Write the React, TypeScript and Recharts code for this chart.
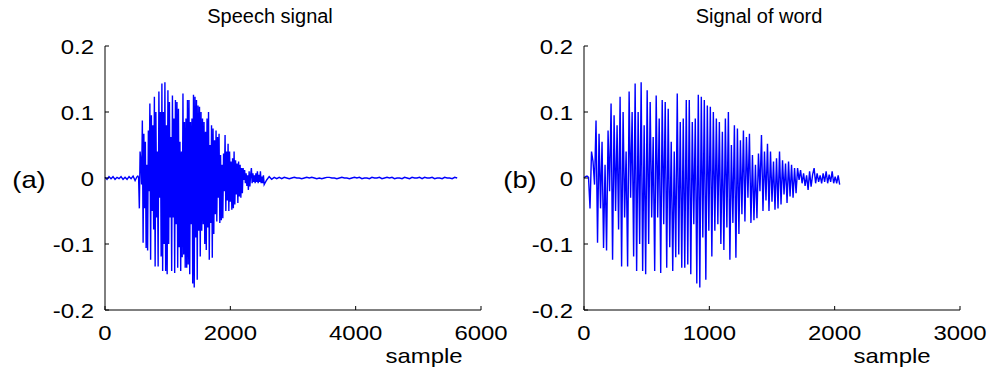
import { Line, LineChart, XAxis, YAxis } from "recharts";

// speech samples before the word starts (step 32 samples)
const leadValues = [
  0.001, -0.002, 0.002, -0.001, 0.002, -0.002, 0.001, -0.001, 0.002, -0.002, 0.001, -0.002, 0.002,
  -0.001, 0.003, -0.004,
];
const LEAD_STEP = 32;

// the word itself (step 12 samples)
const wordValues = [
  0.0, 0.002, 0.003, 0.001, -0.046, 0.04, 0.025, -0.01, 0.087, -0.098,
  0.067, -0.046, 0.055, -0.106, 0.02, -0.11, 0.072, -0.02, 0.113, -0.124,
  0.095, -0.05, 0.08, -0.078, 0.123, -0.134, 0.1, -0.06, 0.04, -0.134,
  0.131, -0.03, 0.1, -0.119, 0.143, -0.141, 0.1, -0.1, 0.145, -0.141,
  0.08, -0.146, 0.133, -0.1, 0.115, -0.06, 0.062, -0.141, 0.125, -0.06,
  0.09, -0.144, 0.118, -0.07, 0.115, -0.136, 0.105, -0.105, 0.055, -0.141,
  0.04, -0.12, 0.128, -0.116, 0.085, -0.136, 0.09, -0.136, 0.118, -0.131,
  0.118, -0.146, 0.085, -0.07, 0.09, -0.16, 0.126, -0.166, 0.123, -0.09,
  0.118, -0.154, 0.11, -0.08, 0.108, -0.119, 0.1, -0.08, 0.09, -0.07,
  0.085, -0.1, 0.07, -0.109, 0.09, -0.075, 0.1, -0.124, 0.05, -0.068,
  0.08, -0.121, 0.075, -0.085, 0.057, -0.055, 0.072, -0.066, 0.062, -0.03,
  0.067, -0.068, 0.035, -0.064, 0.02, -0.061, 0.037, -0.02, 0.065, -0.05,
  0.04, -0.034, 0.052, -0.05, 0.04, -0.036, 0.025, -0.048, 0.03, -0.046,
  0.04, -0.04, 0.027, -0.025, 0.022, -0.038, 0.025, -0.028, 0.02, -0.03,
  0.015, -0.023, 0.015, -0.003, 0.012, -0.008, 0.007, -0.012, 0.004, -0.018,
  0.01, -0.013, 0.005, 0.015, -0.008, 0.007, -0.006, 0.004, -0.008, 0.007,
  -0.006, 0.01, -0.008, 0.005, -0.006, 0.01, -0.008, 0.002, -0.008, 0.004,
  -0.01,
];
const WORD_STEP = 12;
const WORD_OFFSET = 500; // where the word sits inside the speech signal

// silence after the word (step 40 samples)
const tailValues = [
  -0.003, 0.002, -0.002, 0.001, -0.001, 0.001, -0.001, 0.001, 0.0, -0.001,
  0.0, 0.001, 0.0, 0.0, -0.001, 0.0, 0.001, 0.0, 0.001, 0.0,
  -0.001, 0.0, -0.001, 0.0, 0.001, 0.001, 0.0, 0.0, -0.001, 0.0,
  0.001, 0.0, 0.0, -0.001, 0.0, 0.001, 0.0, 0.001, -0.001, 0.0,
  0.0, -0.001, 0.001, 0.0, 0.0, 0.001, -0.001, 0.0, 0.001, 0.0,
  0.001, -0.001, 0.0, 0.0, -0.001, 0.001, 0.0, -0.001, 0.001, 0.0,
  0.0, 0.001, -0.001, 0.001, 0.0, 0.0, 0.001, -0.001, 0.0, 0.0,
  -0.001, 0.001, 0.0, 0.0, -0.001, 0.001, 0.0,
];
const TAIL_START = 2580;
const TAIL_STEP = 40;

const speechXTicks = [0, 2000, 4000, 6000];
const wordXTicks = [0, 1000, 2000, 3000];
const ampTicks = [-0.2, -0.1, 0, 0.1, 0.2];

type Pt = { x: number; y: number };

const wordData: Pt[] = wordValues.map((v, i) => ({ x: i * WORD_STEP, y: v }));
const speechData: Pt[] = [
  ...leadValues.map((v, i) => ({ x: i * LEAD_STEP, y: v })),
  ...wordData.map((p) => ({ x: p.x + WORD_OFFSET, y: p.y })),
  ...tailValues.map((v, i) => ({ x: TAIL_START + i * TAIL_STEP, y: v })),
];

const FONT = "'Liberation Sans', Arial, Helvetica, sans-serif";
const STRETCH = 1.14; // the source tick text is drawn wide
const TICK_LEN = 4;

function BottomTick(props: any) {
  const { x, y, payload } = props;
  return (
    <g>
      <line x1={x} y1={y} x2={x} y2={y - TICK_LEN} stroke="#000" />
      <text
        transform={`translate(${x},${y + 30}) scale(${STRETCH},1)`}
        textAnchor="middle"
        fontFamily={FONT}
        fontSize={21}
        fill="#000"
      >
        {payload.value}
      </text>
    </g>
  );
}

function LeftTick(props: any) {
  const { x, y, payload } = props;
  return (
    <g>
      <line x1={x} y1={y} x2={x + TICK_LEN} y2={y} stroke="#000" />
      <text
        transform={`translate(${x - 11},${y + 7.5}) scale(${STRETCH},1)`}
        textAnchor="end"
        fontFamily={FONT}
        fontSize={21}
        fill="#000"
      >
        {String(payload.value)}
      </text>
    </g>
  );
}

function TopTick(props: any) {
  const { x, y } = props;
  return <line x1={x} y1={y} x2={x} y2={y + TICK_LEN} stroke="#000" />;
}

function RightTick(props: any) {
  const { x, y } = props;
  return <line x1={x} y1={y} x2={x - TICK_LEN} y2={y} stroke="#000" />;
}

function Panel({
  data,
  xMax,
  xTicks,
  left,
  width,
  plotLeft,
  plotRight,
}: {
  data: Pt[];
  xMax: number;
  xTicks: number[];
  left: number;
  width: number;
  plotLeft: number;
  plotRight: number;
}) {
  const axisLine = { stroke: "#000", strokeWidth: 1 };
  return (
    <div style={{ position: "absolute", left, top: 0 }}>
      <LineChart
        width={width}
        height={374}
        data={data}
        margin={{ top: 46, right: width - plotRight, bottom: 24, left: plotLeft - 60 }}
      >
        <XAxis
          dataKey="x"
          type="number"
          domain={[0, xMax]}
          ticks={xTicks}
          interval={0}
          height={40}
          tickSize={0}
          tickMargin={0}
          tickLine={false}
          axisLine={axisLine}
          tick={(p: any) => <BottomTick {...p} />}
        />
        <XAxis
          xAxisId="top"
          orientation="top"
          dataKey="x"
          type="number"
          domain={[0, xMax]}
          ticks={xTicks}
          interval={0}
          height={0}
          tickSize={0}
          tickMargin={0}
          tickLine={false}
          axisLine={axisLine}
          tick={(p: any) => <TopTick {...p} />}
        />
        <YAxis
          type="number"
          domain={[-0.2, 0.2]}
          ticks={ampTicks}
          interval={0}
          width={60}
          tickSize={0}
          tickMargin={0}
          tickLine={false}
          axisLine={axisLine}
          tick={(p: any) => <LeftTick {...p} />}
        />
        <YAxis
          yAxisId="right"
          orientation="right"
          type="number"
          domain={[-0.2, 0.2]}
          ticks={ampTicks}
          interval={0}
          width={0}
          tickSize={0}
          tickMargin={0}
          tickLine={false}
          axisLine={axisLine}
          tick={(p: any) => <RightTick {...p} />}
        />
        <Line
          type="linear"
          dataKey="y"
          stroke="#0000ff"
          strokeWidth={1.4}
          dot={false}
          activeDot={false}
          isAnimationActive={false}
        />
      </LineChart>
    </div>
  );
}

function Label({
  x,
  y,
  size,
  text,
  stretch = STRETCH,
}: {
  x: number;
  y: number;
  size: number;
  text: string;
  stretch?: number;
}) {
  return (
    <div
      style={{
        position: "absolute",
        left: x,
        top: y,
        fontFamily: FONT,
        fontSize: size,
        lineHeight: 1,
        whiteSpace: "nowrap",
        color: "#000",
        transform: `translate(-50%,-50%) scaleX(${stretch})`,
      }}
    >
      {text}
    </div>
  );
}

export default function App() {
  return (
    <div
      style={{
        position: "absolute",
        left: 0,
        top: 0,
        width: 994,
        height: 374,
        background: "#fff",
        overflow: "hidden",
      }}
    >
      <Panel data={speechData} xMax={6000} xTicks={speechXTicks} left={0} width={540} plotLeft={105} plotRight={481} />
      <Panel data={wordData} xMax={3000} xTicks={wordXTicks} left={480} width={514} plotLeft={104} plotRight={480} />
      <Label x={270} y={16} size={20} stretch={1} text="Speech signal" />
      <Label x={759} y={16} size={20} stretch={1} text="Signal of word" />
      <Label x={29} y={180} size={24} text="(a)" />
      <Label x={520} y={180} size={24} text="(b)" />
      <Label x={424} y={355} size={21} text="sample" />
      <Label x={892} y={355} size={21} text="sample" />
    </div>
  );
}
